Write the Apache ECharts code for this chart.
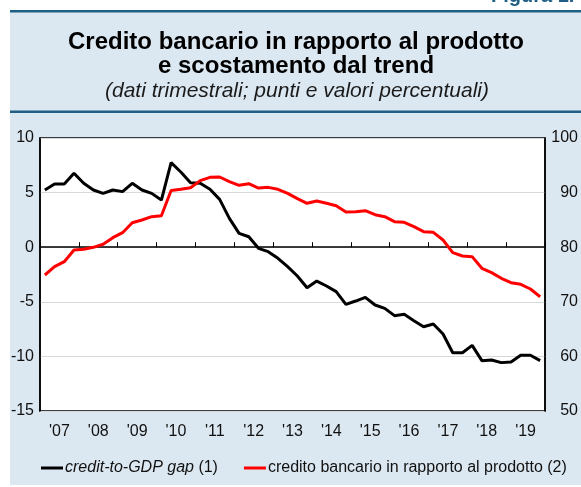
<!DOCTYPE html>
<html>
<head>
<meta charset="utf-8">
<script src="https://cdn.jsdelivr.net/npm/echarts@6/dist/echarts.min.js"></script>
<style>
html,body{margin:0;padding:0;background:#fff;}
#chart{width:581px;height:487px;}
</style>
</head>
<body>
<div id="chart"></div>
<script>
// Year labels (x axis) and quarterly categories
var yearLabels = ["'07","'08","'09","'10","'11","'12","'13","'14","'15","'16","'17","'18","'19"];
var quarterNames = ["Q1","Q2","Q3","Q4"];
var quarters = [];
yearLabels.forEach(function (y) { quarterNames.forEach(function (q) { quarters.push(y + " " + q); }); });

// credit-to-GDP gap (left axis, points)
var gapValues = [
  5.24, 5.79, 5.79, 6.77,
  5.85, 5.24, 4.93, 5.24,
  5.09, 5.85, 5.24, 4.93,
  4.32, 7.74, 6.89, 5.91,
  5.85, 5.30, 4.38, 2.64,
  1.27, 0.96, -0.10, -0.41,
  -1.02, -1.78, -2.64, -3.71,
  -3.10, -3.55, -4.07, -5.23,
  -4.93, -4.59, -5.29, -5.60,
  -6.27, -6.15, -6.73, -7.28,
  -7.03, -7.95, -9.66, -9.66,
  -8.99, -10.39, -10.33, -10.57,
  -10.51, -9.90, -9.90, -10.39
];

// credito bancario in rapporto al prodotto (right axis, %)
var creditValues = [
  74.91, 76.43, 77.35, 79.49,
  79.61, 79.98, 80.53, 81.75,
  82.66, 84.49, 84.98, 85.59,
  85.77, 90.40, 90.60, 90.90,
  92.20, 92.80, 92.86, 92.00,
  91.33, 91.63, 90.84, 90.96,
  90.60, 89.87, 88.90, 88.04,
  88.46, 88.04, 87.60, 86.45,
  86.51, 86.69, 85.95, 85.59,
  84.67, 84.55, 83.76, 82.84,
  82.72, 81.32, 79.00, 78.39,
  78.27, 76.13, 75.34, 74.30,
  73.50, 73.20, 72.34, 70.93
];

var seriesNames = ["credit-to-GDP gap (1)", "credito bancario in rapporto al prodotto (2)"];
var titleLines = ["Credito bancario in rapporto al prodotto", "e scostamento dal trend"];
var subtitleText = "(dati trimestrali; punti e valori percentuali)";
var figureLabel = "Figura 1.";

var FONT = "Liberation Sans, Arial, Helvetica, sans-serif";
var chart = echarts.init(document.getElementById('chart'), null, {renderer: 'canvas'});

function txt(t, x, y, font, fill, align) {
  return {type: 'text', z: 10, style: {text: t, x: x, y: y, font: font, fill: fill, textAlign: align || 'center', textVerticalAlign: 'middle'}};
}

chart.setOption({
  animation: false,
  textStyle: {fontFamily: FONT},
  graphic: [
    {type: 'rect', z: -10, shape: {x: 10, y: 12, width: 571, height: 473}, style: {fill: '#dce8f1'}},
    {type: 'rect', z: -5, shape: {x: 10, y: 10, width: 571, height: 2.5}, style: {fill: '#1f5f86'}},
    {type: 'rect', z: -5, shape: {x: 10, y: 110.5, width: 571, height: 2.5}, style: {fill: '#1f5f86'}},
    txt(titleLines[0], 296, 42, 'bold 24px ' + FONT, '#000'),
    txt(titleLines[1], 296, 66, 'bold 24px ' + FONT, '#000'),
    txt(subtitleText, 297, 91, 'italic 21px ' + FONT, '#1a1a1a'),
    {type: 'text', z: 10, style: {text: figureLabel, x: 491, y: 6, font: 'bold 20px ' + FONT, fill: '#1f5f86', textAlign: 'left', textVerticalAlign: 'bottom'}}
  ],
  grid: {
    left: 40, right: 28, top: 138, bottom: 76,
    show: true, backgroundColor: '#fff', borderColor: '#000', borderWidth: 1.5
  },
  legend: {
    left: 41, top: 460, padding: 0,
    itemWidth: 22, itemHeight: 3, itemGap: 26,
    icon: 'rect',
    data: seriesNames,
    textStyle: {fontFamily: FONT, fontSize: 16, color: '#111', padding: [0, 0, 0, -3], rich: {i: {fontFamily: FONT, fontSize: 16, fontStyle: 'italic', color: '#111'}}},
    formatter: function (name) {
      if (name === seriesNames[0]) return '{i|credit-to-GDP gap} (1)';
      return name;
    }
  },
  xAxis: [
    {
      type: 'category', data: quarters, boundaryGap: true, position: 'bottom',
      axisLine: {lineStyle: {color: '#000', width: 1.5}},
      axisTick: {show: true, inside: true, length: 5, interval: 3, lineStyle: {color: '#000', width: 1}},
      axisLabel: {show: false},
      splitLine: {show: false}
    },
    {
      type: 'category', data: yearLabels, boundaryGap: true, position: 'bottom',
      axisLine: {show: false}, axisTick: {show: false}, splitLine: {show: false},
      axisLabel: {show: true, margin: 13, fontFamily: FONT, fontSize: 16, color: '#111', interval: 0}
    }
  ],
  yAxis: [
    {
      type: 'value', min: -15, max: 10, interval: 5, position: 'left',
      axisLine: {show: true, lineStyle: {color: '#000', width: 1.5}},
      axisTick: {show: false},
      axisLabel: {fontFamily: FONT, fontSize: 16, color: '#111', margin: 6},
      splitLine: {show: true, lineStyle: {color: '#d9d9d9', width: 1}}
    },
    {
      type: 'value', min: 50, max: 100, interval: 10, position: 'right',
      axisLine: {show: true, lineStyle: {color: '#000', width: 1.5}},
      axisTick: {show: false},
      axisLabel: {fontFamily: FONT, fontSize: 16, color: '#111', margin: 33, align: 'right'},
      splitLine: {show: false}
    }
  ],
  series: [
    {
      name: seriesNames[0], type: 'line', xAxisIndex: 0, yAxisIndex: 0,
      data: gapValues, symbol: 'none', color: '#000',
      lineStyle: {color: '#000', width: 3}
    },
    {
      name: seriesNames[1], type: 'line', xAxisIndex: 0, yAxisIndex: 1,
      data: creditValues, symbol: 'none', color: '#ff0000',
      lineStyle: {color: '#ff0000', width: 3}
    }
  ]
});
</script>
</body>
</html>
